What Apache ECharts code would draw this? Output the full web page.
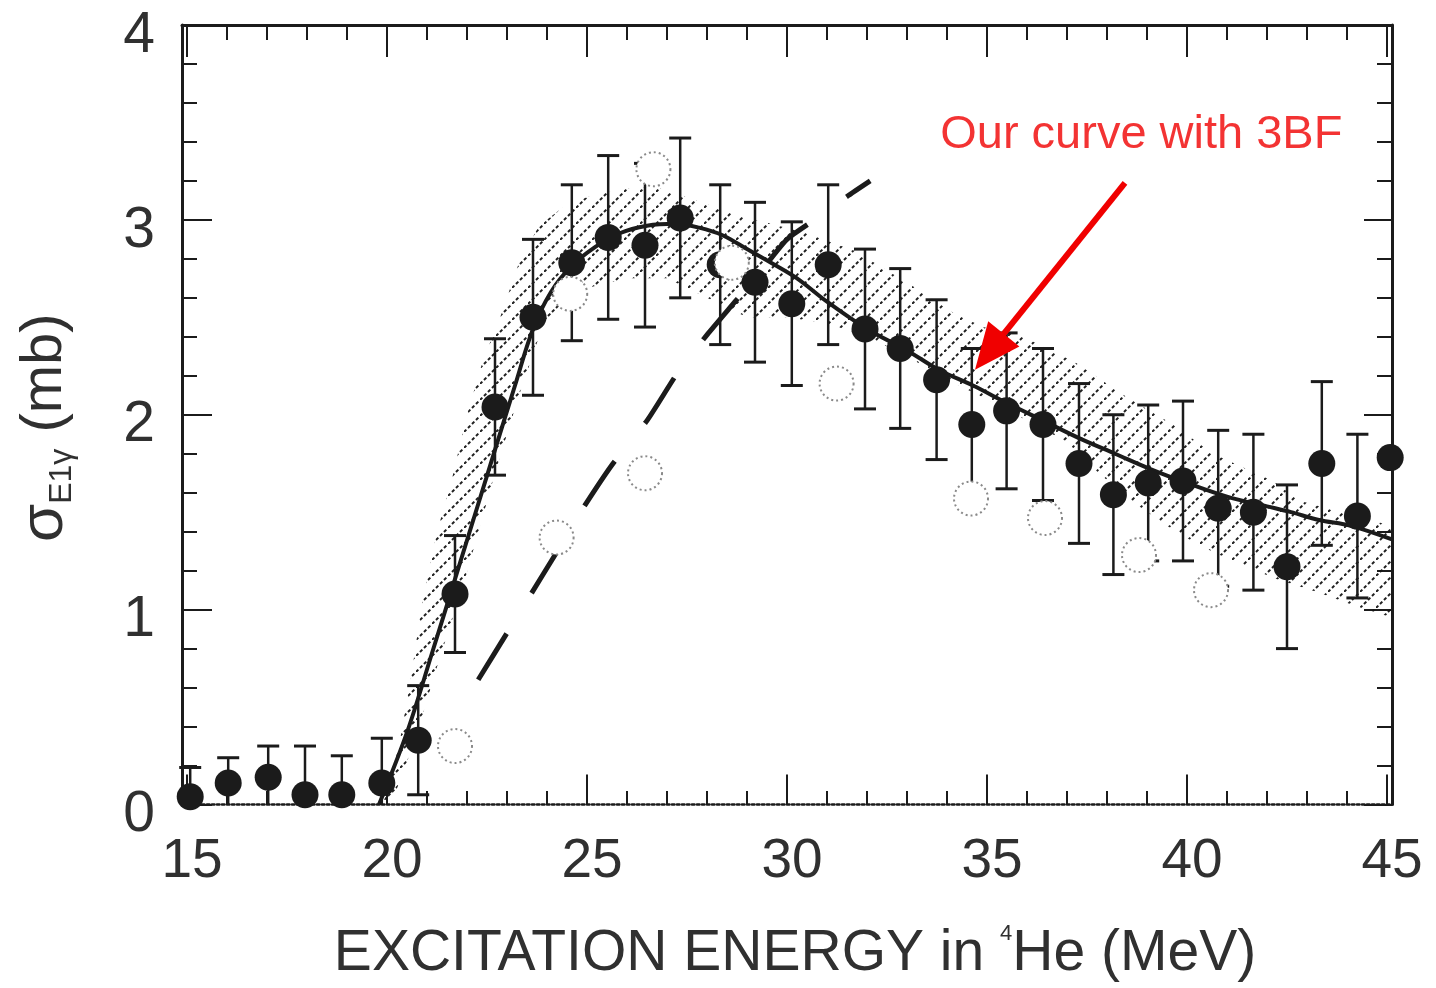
<!DOCTYPE html>
<html>
<head>
<meta charset="utf-8">
<script src="https://cdn.jsdelivr.net/npm/echarts@6/dist/echarts.min.js"></script>
<style>html,body{margin:0;padding:0;background:#fff;}#c{width:1436px;height:988px;}</style>
</head>
<body>
<div id="c"></div>
<script>
// ---------------- data ----------------
// filled circles: experimental points with error bars
const filledE   = [15.08,16.03,17.03,17.95,18.87,19.87,20.78,21.7,22.7,23.65,24.62,25.53,26.45,27.33,28.33,29.2,30.12,31.03,31.95,32.83,33.74,34.62,35.49,36.4,37.3,38.16,39.03,39.9,40.78,41.66,42.5,43.37,44.26,45.08];
const filledS   = [0.04,0.11,0.14,0.05,0.05,0.11,0.33,1.08,2.04,2.50,2.78,2.91,2.87,3.01,2.77,2.68,2.57,2.77,2.44,2.34,2.18,1.95,2.02,1.95,1.75,1.59,1.65,1.66,1.52,1.50,1.22,1.75,1.48,1.78];
const filledErr = [0.15,0.13,0.16,0.25,0.20,0.23,0.28,0.30,0.35,0.40,0.40,0.42,0.42,0.41,0.41,0.41,0.42,0.41,0.41,0.41,0.41,0.39,0.40,0.39,0.41,0.41,0.40,0.41,0.40,0.40,0.42,0.42,0.42,0];
// open (dotted) circles
const openE = [21.7,24.24,24.58,26.45,26.66,28.62,31.24,34.6,36.45,38.8,40.6];
const openS = [0.30,1.37,2.62,1.70,3.26,2.78,2.16,1.57,1.47,1.28,1.10];
// solid curve ("our curve with 3BF")
const solidE = [19.8,20.5,21.13,21.75,22.58,23.2,23.65,24.1,24.6,25.2,25.8,26.5,27.2,27.8,28.4,29.0,29.6,30.25,31.0,32.0,33.0,33.8,34.65,35.5,36.4,37.3,38.2,39.1,40.0,41.0,42.0,42.6,43.3,44.1,45.125];
const solidS = [0,0.37,0.78,1.19,1.74,2.15,2.44,2.63,2.76,2.86,2.93,2.97,2.98,2.96,2.92,2.85,2.78,2.70,2.58,2.44,2.33,2.23,2.15,2.06,1.97,1.88,1.80,1.72,1.65,1.58,1.53,1.50,1.46,1.43,1.36];
// long-dashed curve
const dashE = [22.28,23.0,23.6,24.2,24.9,25.65,26.5,27.28,28.0,28.7,29.4,30.0,30.83,31.5,32.08];
const dashS = [0.64,0.88,1.08,1.28,1.52,1.75,1.97,2.22,2.41,2.58,2.75,2.90,3.02,3.12,3.20];
// hatched band: upper and lower edges
const bandHiE = [19.9,20.3,20.6,20.85,21.25,21.6,22.0,22.4,22.83,23.3,23.8,24.5,25.2,26.0,26.7,27.3,28.0,28.8,29.6,30.5,31.7,32.5,33.3,34.1,34.9,35.9,37.2,38.5,39.65,40.65,42.15,42.8,44.0,45.125];
const bandHiS = [0,0.3,0.65,1.0,1.4,1.65,2.0,2.28,2.5,2.78,2.97,3.08,3.13,3.16,3.17,3.13,3.08,3.02,2.98,2.93,2.84,2.74,2.64,2.53,2.45,2.40,2.27,2.09,1.95,1.80,1.66,1.56,1.49,1.43];
const bandLoE = [20.1,20.7,21.3,21.9,22.7,23.3,23.8,24.3,25.0,26.0,27.0,28.0,29.0,30.0,31.0,32.0,33.0,34.0,35.0,36.0,37.0,37.8,38.6,39.5,40.3,41.15,42.2,43.25,44.2,45.125];
const bandLoS = [0,0.33,0.74,1.12,1.7,2.1,2.4,2.55,2.65,2.7,2.7,2.6,2.5,2.5,2.47,2.4,2.3,2.18,2.08,1.97,1.86,1.7,1.56,1.43,1.33,1.25,1.16,1.09,1.02,0.96];
// axes
const xRange = [14.875, 45.125];
const yRange = [0, 4];
const xTickLabels = [15,20,25,30,35,40,45];
const xMinorTicks = [15,16,17,18,19,20,21,22,23,24,25,26,27,28,29,30,31,32,33,34,35,36,37,38,39,40,41,42,43,44,45];
// annotation
const noteText = 'Our curve with 3BF';
const notePos = [33.83, 3.436];
const arrowFrom = [38.45, 3.19];
const arrowTip = [34.7, 2.231];

// ---------------- chart ----------------
const FS = "'Liberation Sans', Arial, sans-serif";
const ink = '#1b1b1b';
const labInk = '#303030';

const hatch = (function () {
  const s = 16, c = document.createElement('canvas');
  c.width = s; c.height = s;
  const g = c.getContext('2d');
  g.strokeStyle = 'rgba(20,20,20,0.95)';
  g.lineWidth = 2;
  g.setLineDash([3.3, 2.357]);
  g.beginPath(); g.moveTo(0, s); g.lineTo(s, 0); g.stroke();
  return c;
})();

const zip = (a, b) => a.map((v, i) => [v, b[i]]);
const chart = echarts.init(document.getElementById('c'), null, {renderer: 'canvas'});

const gridBox = {left: 182, top: 25, width: 1210, height: 780};
const tickStyle = {color: ink, width: 2};

const option = {
  animation: false,
  backgroundColor: '#ffffff',
  grid: [Object.assign({show: false}, gridBox), Object.assign({show: false}, gridBox)],
  xAxis: [
    {
      gridIndex: 0, type: 'value', position: 'bottom', min: xRange[0], max: xRange[1],
      axisLine: {show: true, onZero: false, lineStyle: {color: ink, width: 2.5, type: 'dotted'}},
      axisTick: {show: true, inside: true, length: 30, customValues: xTickLabels, lineStyle: tickStyle},
      axisLabel: {show: true, customValues: xTickLabels, margin: 30, fontFamily: FS, fontSize: 55, color: labInk, padding: [0, 0, 0, 10]},
      splitLine: {show: false},
      name: '{a|EXCITATION ENERGY in }{s|4}{a|He (MeV)}',
      nameLocation: 'middle', nameGap: 118,
      nameTextStyle: {
        padding: [0, 0, 0, 16],
        rich: {
          a: {fontFamily: FS, fontSize: 57, color: labInk, lineHeight: 64},
          s: {fontFamily: FS, fontSize: 22, color: labInk, lineHeight: 30, verticalAlign: 'top'}
        }
      }
    },
    {
      gridIndex: 0, type: 'value', position: 'top', min: xRange[0], max: xRange[1],
      axisLine: {show: true, onZero: false, lineStyle: {color: ink, width: 3}},
      axisTick: {show: true, inside: true, length: 32, customValues: xTickLabels, lineStyle: tickStyle},
      axisLabel: {show: false}, splitLine: {show: false}
    },
    {
      gridIndex: 1, type: 'value', position: 'bottom', min: xRange[0], max: xRange[1],
      axisLine: {show: false},
      axisTick: {show: true, inside: true, length: 14, customValues: xMinorTicks, lineStyle: tickStyle},
      axisLabel: {show: false}, splitLine: {show: false}
    },
    {
      gridIndex: 1, type: 'value', position: 'top', min: xRange[0], max: xRange[1],
      axisLine: {show: false},
      axisTick: {show: true, inside: true, length: 15, customValues: xMinorTicks, lineStyle: tickStyle},
      axisLabel: {show: false}, splitLine: {show: false}
    }
  ],
  yAxis: [
    {
      gridIndex: 0, type: 'value', position: 'left', min: yRange[0], max: yRange[1], interval: 1,
      axisLine: {show: true, onZero: false, lineStyle: {color: ink, width: 3}},
      axisTick: {show: true, inside: true, length: 30, lineStyle: tickStyle},
      minorTick: {show: true, splitNumber: 5, length: 15, lineStyle: tickStyle},
      axisLabel: {margin: 27, fontFamily: FS, fontSize: 57, color: labInk, verticalAlign: 'top', lineHeight: 22},
      splitLine: {show: false},
      name: '{s|σ}{b|E1γ}{a| (mb)}',
      nameLocation: 'middle', nameGap: 104, nameRotate: 90,
      nameTextStyle: {
        padding: [0, 26, 0, 0],
        rich: {
          s: {fontFamily: FS, fontSize: 62, color: labInk, lineHeight: 66},
          b: {fontFamily: FS, fontSize: 32, color: labInk, lineHeight: 18, verticalAlign: 'bottom'},
          a: {fontFamily: FS, fontSize: 58, color: labInk, lineHeight: 66}
        }
      }
    },
    {
      gridIndex: 0, type: 'value', position: 'right', min: yRange[0], max: yRange[1], interval: 1,
      axisLine: {show: true, onZero: false, lineStyle: {color: ink, width: 3}},
      axisTick: {show: true, inside: true, length: 28, lineStyle: tickStyle},
      minorTick: {show: true, splitNumber: 5, length: 15, lineStyle: tickStyle},
      axisLabel: {show: false}, splitLine: {show: false}
    },
    {gridIndex: 1, type: 'value', min: yRange[0], max: yRange[1], show: false}
  ],
  series: [
    {
      type: 'custom', name: 'band', xAxisIndex: 0, yAxisIndex: 0, silent: true, z: 1,
      data: [[30, 2]],
      renderItem: function (params, api) {
        const pts = [];
        for (let i = 0; i < bandHiE.length; i++) pts.push(api.coord([bandHiE[i], bandHiS[i]]));
        for (let i = bandLoE.length - 1; i >= 0; i--) pts.push(api.coord([bandLoE[i], bandLoS[i]]));
        return {type: 'polygon', shape: {points: pts}, style: {fill: {image: hatch, repeat: 'repeat'}, stroke: null}};
      }
    },
    {
      type: 'line', name: 'solid', xAxisIndex: 0, yAxisIndex: 0, silent: true, z: 3,
      data: zip(solidE, solidS), showSymbol: false, symbol: 'none',
      smooth: 0.35,
      lineStyle: {color: ink, width: 4}
    },
    {
      type: 'line', name: 'dashed', xAxisIndex: 0, yAxisIndex: 0, silent: true, z: 3,
      data: zip(dashE, dashS), showSymbol: false, symbol: 'none',
      smooth: 0.2,
      lineStyle: {color: ink, width: 5, type: [54, 48], cap: 'butt'}
    },
    {
      type: 'custom', name: 'errorbars', xAxisIndex: 0, yAxisIndex: 0, silent: true, z: 4,
      data: filledE.map((e, i) => [e, filledS[i], filledErr[i]]),
      renderItem: function (params, api) {
        const x = api.value(0), y = api.value(1), er = api.value(2);
        if (!er) return null;
        const lo = Math.max(0, y - er), hi = y + er;
        const pHi = api.coord([x, hi]), pLo = api.coord([x, lo]);
        const hw = 11;
        const ch = [
          {type: 'line', shape: {x1: pHi[0], y1: pHi[1], x2: pLo[0], y2: pLo[1]}, style: {stroke: ink, lineWidth: 2.5}},
          {type: 'line', shape: {x1: pHi[0] - hw, y1: pHi[1], x2: pHi[0] + hw, y2: pHi[1]}, style: {stroke: ink, lineWidth: 3}}
        ];
        if (y - er >= 0) ch.push({type: 'line', shape: {x1: pLo[0] - hw, y1: pLo[1], x2: pLo[0] + hw, y2: pLo[1]}, style: {stroke: ink, lineWidth: 3}});
        return {type: 'group', children: ch};
      }
    },
    {
      type: 'scatter', name: 'filled', xAxisIndex: 0, yAxisIndex: 0, silent: true, z: 5,
      data: zip(filledE, filledS), symbol: 'circle', symbolSize: 27,
      itemStyle: {color: ink, opacity: 1}
    },
    {
      type: 'scatter', name: 'open', xAxisIndex: 0, yAxisIndex: 0, silent: true, z: 6,
      data: zip(openE, openS), symbol: 'circle', symbolSize: 34,
      itemStyle: {color: '#ffffff', opacity: 1, borderColor: '#8a8a8a', borderWidth: 2, borderType: [2, 3]}
    },
    {
      type: 'scatter', name: 'note', xAxisIndex: 0, yAxisIndex: 0, silent: true, z: 10,
      data: [notePos], symbolSize: 0,
      label: {show: true, position: 'right', distance: 0, formatter: noteText, fontFamily: FS, fontSize: 47, color: '#f00000'}
    },
    {
      type: 'custom', name: 'arrow', xAxisIndex: 0, yAxisIndex: 0, silent: true, z: 10,
      data: [[arrowFrom[0], arrowFrom[1], arrowTip[0], arrowTip[1]]],
      renderItem: function (params, api) {
        const p0 = api.coord([api.value(0), api.value(1)]);
        const p1 = api.coord([api.value(2), api.value(3)]);
        const dx = p1[0] - p0[0], dy = p1[1] - p0[1];
        const L = Math.sqrt(dx * dx + dy * dy), ux = dx / L, uy = dy / L;
        const hl = 46, hw = 20;
        const bx = p1[0] - ux * hl, by = p1[1] - uy * hl;
        return {type: 'group', children: [
          {type: 'line', shape: {x1: p0[0], y1: p0[1], x2: bx + ux * 4, y2: by + uy * 4}, style: {stroke: '#f00000', lineWidth: 6}},
          {type: 'polygon', shape: {points: [[p1[0], p1[1]], [bx - uy * hw, by + ux * hw], [bx + uy * hw, by - ux * hw]]}, style: {fill: '#f00000', stroke: null}}
        ]};
      }
    }
  ]
};
chart.setOption(option);
</script>
</body>
</html>
